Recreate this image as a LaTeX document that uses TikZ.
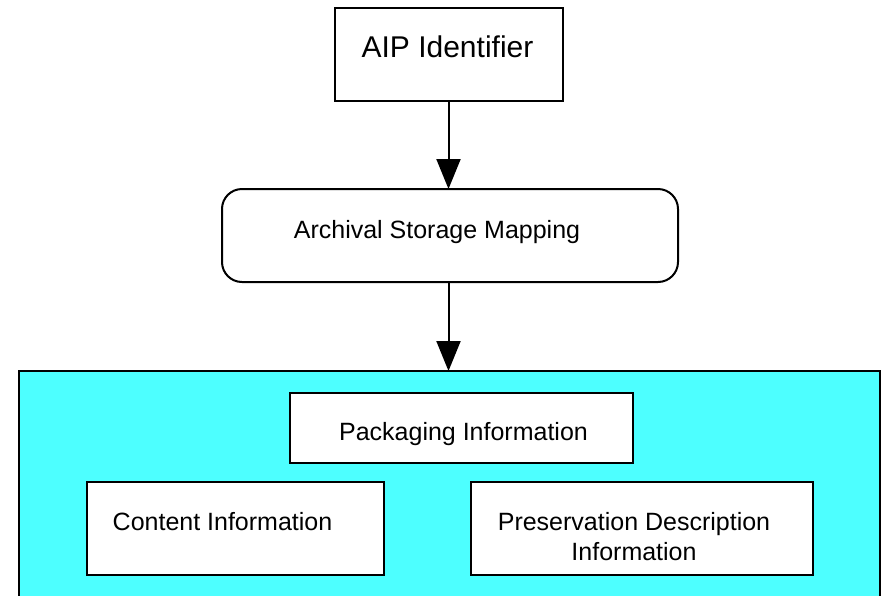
\documentclass[tikz,border=0pt]{standalone}
\usepackage{fontspec}
\setmainfont{Liberation Sans}
\usetikzlibrary{arrows.meta}
\definecolor{aipcyan}{HTML}{4DFFFF}
\tikzset{
  box/.style={draw=black, line width=2pt, fill=white, inner sep=0pt, outer sep=0pt},
  lbl/.style={anchor=base, inner sep=0pt, font=\fontsize{25}{30}\selectfont},
  flow/.style={line width=2pt, -{Triangle[width=24pt,length=30pt]}}
}
\begin{document}
\begin{tikzpicture}[x=1pt,y=-1pt]
\useasboundingbox (0,0) rectangle (881,595);
\fill[white] (0,0) rectangle (881,595);
% outer cyan package
\node[box, fill=aipcyan, minimum width=861pt, minimum height=260pt] (pkg) at (449.5,501) {};
% boxes
\node[box, minimum width=228pt, minimum height=93pt] (aip) at (448.5,54.5) {};
\node[box, rounded corners=20pt, minimum width=456pt, minimum height=93pt] (asm) at (450,235.5) {};
\node[box, minimum width=343pt, minimum height=70pt] (pi) at (461.5,428) {};
\node[box, minimum width=297pt, minimum height=93pt] (ci) at (235.5,528.5) {};
\node[box, minimum width=342pt, minimum height=93pt] (pdi) at (642,528.5) {};
% texts
\node[lbl, font=\fontsize{30}{36}\selectfont] (taip) at (447.5,57) {AIP Identifier};
\node[lbl] (tasm) at (437,238) {Archival Storage Mapping};
\node[lbl] (tpi) at (463.5,440) {Packaging Information};
\node[lbl] (tci) at (222.5,530) {Content Information};
\node[lbl] (tpdi1) at (634,530) {Preservation Description};
\node[lbl] (tpdi2) at (634,560) {Information};
% connectors
\draw[flow] (aip.south) -- (aip.south |- asm.north);
\draw[flow] (aip.south |- asm.south) -- (aip.south |- pkg.north);
\end{tikzpicture}
\end{document}
